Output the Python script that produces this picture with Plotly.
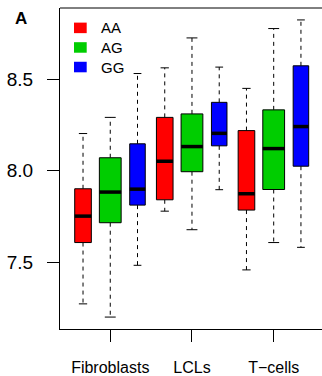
import plotly.graph_objects as go

# Expression by genotype within each cell type
cell_types = ["Fibroblasts", "LCLs", "T\u2212cells"]
genotypes = ["AA", "AG", "GG"]
genotype_colors = ["#FF0000", "#00CD00", "#0000FF"]

# Five-number summaries per box (cell type x genotype), order AA, AG, GG
lower = [7.275, 7.203, 7.485, 7.780, 7.679, 7.897, 7.460, 7.609, 7.583]
q1 = [7.609, 7.717, 7.813, 7.842, 7.995, 8.136, 7.786, 7.898, 8.025]
median = [7.753, 7.884, 7.900, 8.052, 8.132, 8.204, 7.875, 8.121, 8.241]
q3 = [7.902, 8.071, 8.147, 8.291, 8.310, 8.373, 8.219, 8.332, 8.572]
upper = [8.203, 8.291, 8.530, 8.561, 8.724, 8.565, 8.449, 8.775, 8.822]

# relative box widths (proportional to group size)
box_width = [0.61, 0.80, 0.57]

W, H = 322, 376
L, R, T, B = 60, 0, 8, 45
font = "Liberation Sans, Arial, sans-serif"

fig = go.Figure()

positions = list(range(1, 10))
for i, pos in enumerate(positions):
    g = i % 3
    w = box_width[g]
    col = genotype_colors[g]
    half = w / 2
    cap = w / 4
    # dashed whiskers
    fig.add_trace(go.Scatter(
        x=[pos, pos, None, pos, pos],
        y=[q3[i], upper[i], None, q1[i], lower[i]],
        mode="lines", line=dict(color="black", width=1, dash="4px,4px"),
        hoverinfo="skip", showlegend=False))
    # whisker caps
    fig.add_trace(go.Scatter(
        x=[pos - cap, pos + cap, None, pos - cap, pos + cap],
        y=[upper[i], upper[i], None, lower[i], lower[i]],
        mode="lines", line=dict(color="black", width=1),
        hoverinfo="skip", showlegend=False))
    # box body
    fig.add_trace(go.Scatter(
        x=[pos - half, pos + half, pos + half, pos - half, pos - half],
        y=[q1[i], q1[i], q3[i], q3[i], q1[i]],
        mode="lines", fill="toself", fillcolor=col,
        line=dict(color="black", width=1),
        hoverinfo="skip", showlegend=False))
    # median
    fig.add_trace(go.Scatter(
        x=[pos - half, pos + half], y=[median[i], median[i]],
        mode="lines", line=dict(color="black", width=3.5),
        hoverinfo="skip", showlegend=False))

px_per_unit = 27.24
x0 = 0.155
x1 = x0 + (W - L - R) / px_per_unit

fig.update_layout(
    width=W, height=H,
    margin=dict(l=L, r=R, t=T, b=B, pad=0),
    paper_bgcolor="white", plot_bgcolor="white",
    font=dict(family=font, color="black"),
    xaxis=dict(
        range=[x0, x1], tickmode="array", tickvals=[2, 5, 8],
        ticktext=cell_types, ticks="outside", ticklen=12, tickcolor="black",
        tickwidth=1, showgrid=False, zeroline=False, showline=True,
        linecolor="black", linewidth=1, tickfont=dict(size=16),
        ticklabelstandoff=12),
    yaxis=dict(
        range=[7.138, 8.887], tickmode="array", tickvals=[7.5, 8.0, 8.5],
        ticktext=["7.5", "8.0", "8.5"], ticks="outside", ticklen=12,
        tickcolor="black", tickwidth=1, showgrid=False, zeroline=False,
        showline=True, linecolor="black", linewidth=1,
        tickfont=dict(size=19), ticklabelstandoff=10),
)

# top border of the plotting frame
fig.add_shape(type="line", xref="paper", yref="paper", x0=0, x1=1, y0=1, y1=1,
              line=dict(color="black", width=1))

# genotype key
plot_w = W - L - R
plot_h = H - T - B
for k, (name, col) in enumerate(zip(genotypes, genotype_colors)):
    cy = 28 + k * 19.7  # key row centre, px from top
    fig.add_shape(type="rect", xref="paper", yref="paper",
                  x0=(74 - L) / plot_w, x1=(86.7 - L) / plot_w,
                  y0=1 - (cy + 5.3 - T) / plot_h, y1=1 - (cy - 5.3 - T) / plot_h,
                  fillcolor=col, line=dict(width=0))
    fig.add_annotation(xref="paper", yref="paper",
                       x=(99 - L) / plot_w, y=1 - (cy - T) / plot_h,
                       text=name, showarrow=False, xanchor="left",
                       yanchor="middle", font=dict(size=15))

# panel label
fig.add_annotation(xref="paper", yref="paper", x=(21 - L) / plot_w,
                   y=1 - (19 - T) / plot_h, text="<b>A</b>", showarrow=False,
                   xanchor="center", yanchor="middle", font=dict(size=17))

fig.write_html("out.html")
